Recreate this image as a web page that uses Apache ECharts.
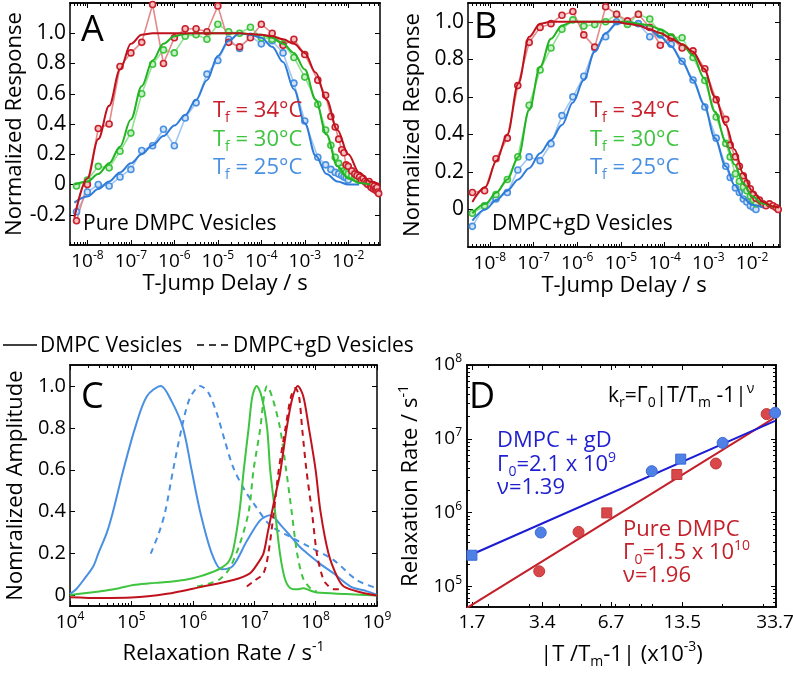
<!DOCTYPE html>
<html>
<head>
<meta charset="utf-8">
<script src="https://cdn.jsdelivr.net/npm/echarts@6.0.0/dist/echarts.min.js"></script>
<style>
html,body{margin:0;padding:0;background:#fff;}
#chart{width:793px;height:676px;}
</style>
</head>
<body>
<div id="chart"></div>
<script>
// ================= DATA =================
// Panel A (Pure DMPC vesicles). x = log10(T-jump delay / s)
const logDelayA = [-8.25,-8,-7.75,-7.5,-7.25,-7,-6.75,-6.5,-6.25,-6,-5.75,-5.5,-5.25,-5,-4.75,-4.5,-4.25,-4,-3.75,-3.5,-3.25,-3,
  -2.7,-2.52,-2.4,-2.3,-2.22,-2.15,-2.1,-2.05,-2,
  -1.92,-1.85,-1.8,-1.74,-1.7,-1.66,-1.62,-1.58,-1.55,-1.52,-1.49,-1.47,-1.44,-1.42,-1.4,-1.38,-1.36,-1.34,-1.32,-1.3];
const respA34 = [-0.24,0.00,0.37,0.40,0.78,0.87,0.94,1.19,0.80,0.97,1.03,1.03,1.01,1.18,0.94,0.91,0.97,1.06,1.00,0.92,0.96,0.86,
  0.69,0.59,0.45,0.38,0.30,0.23,0.21,0.13,0.12,
  0.09,0.07,0.06,0.05,0.03,0.04,0.02,0.01,0.00,0.02,-0.01,-0.02,0.00,-0.03,-0.01,-0.03,-0.04,-0.02,-0.05,-0.06];
const respA30 = [-0.01,0.03,0.12,0.11,0.22,0.34,0.60,0.795,0.89,0.87,0.98,0.99,0.96,1.06,1.01,1.00,1.04,0.97,0.96,0.93,0.84,0.71,
  0.53,0.36,0.26,0.18,0.14,0.11,0.09,0.08,0.07,
  0.06,0.05,0.04,0.03];
const respA25 = [-0.18,-0.05,0.00,-0.01,0.05,0.10,0.225,0.256,0.365,0.256,0.44,0.54,0.73,0.82,0.96,0.90,0.98,0.93,0.95,0.87,0.67,0.42,
  0.18,0.13,0.10,0.08,0.07,0.06,0.05,0.045,0.03];
const fitLogDelayA = [-8.3,-8,-7.75,-7.5,-7.25,-7,-6.75,-6.5,-6.25,-6,-5.75,-5.5,-5.25,-5,-4.75,-4.5,-4.25,-4,-3.75,-3.5,-3.25,-3,-2.75,-2.5,-2.25,-2,-1.75,-1.5,-1.27];
const fitA34 = [-0.22,0.04,0.30,0.52,0.76,0.93,0.99,1.0,1.0,1.0,1.0,1.0,1.0,1.0,1.0,1.0,0.995,0.99,0.98,0.96,0.93,0.87,0.74,0.56,0.36,0.20,0.08,0.02,0.0];
const fitA30 = [0.0,0.02,0.07,0.14,0.25,0.43,0.65,0.82,0.93,0.98,0.995,1.0,1.0,1.0,1.0,1.0,0.995,0.99,0.97,0.93,0.87,0.76,0.56,0.33,0.12,0.04,0.01,0.0];
const fitA25 = [-0.12,-0.08,-0.03,0.02,0.08,0.14,0.20,0.26,0.32,0.39,0.46,0.56,0.69,0.85,0.95,1.0,0.99,0.97,0.91,0.81,0.63,0.405,0.19,0.07,0.02,0.0,0.0];

// Panel B (DMPC+gD vesicles). x = log10(T-jump delay / s)
const logDelayB = [-8.4,-8.12,-7.86,-7.6,-7.36,-7.1,-6.85,-6.6,-6.35,-6.1,-5.85,-5.6,-5.35,-5.1,-4.85,-4.6,-4.34,-4.1,-3.85,-3.6,-3.35,-3.08,
  -2.82,-2.6,-2.5,-2.38,-2.29,-2.2,-2.12,-2.04,-1.97,-1.91,-1.83,-1.75,-1.68,-1.6,-1.52,-1.45,-1.4];
const respB34 = [0.09,0.10,0.27,0.38,0.66,0.89,0.97,0.99,1.035,1.055,0.93,0.865,1.08,1.04,1.005,1.04,0.97,0.875,0.915,0.86,0.845,0.75,
  0.585,0.48,0.343,0.28,0.23,0.18,0.14,0.11,0.08,0.06,0.05,0.03,0.02,0.03,0.02,0.01,0.0];
const respB30 = [-0.02,0.02,0.08,0.16,0.28,0.555,0.743,0.86,0.96,1.01,0.977,0.985,1.0,1.04,0.986,1.04,1.015,0.94,0.92,0.915,0.81,0.687,
  0.493,0.352,0.28,0.19,0.15,0.12,0.10,0.07,0.05,0.03];
const respB25 = [-0.09,0.018,0.056,0.09,0.21,0.28,0.26,0.35,0.50,0.60,0.71,0.86,0.92,1.0,0.99,0.99,0.92,0.93,0.88,0.79,0.69,0.546,
  0.38,0.23,0.17,0.115,0.09,0.056,0.04,0.02,0.01,0.0];
const fitLogDelayB = [-8.4,-8.1,-7.85,-7.6,-7.35,-7.1,-6.85,-6.6,-6.35,-6.1,-5.85,-5.6,-5.35,-5.1,-4.85,-4.6,-4.35,-4.1,-3.85,-3.6,-3.35,-3.1,-2.85,-2.6,-2.4,-2.2,-2.0,-1.75,-1.5,-1.38];
const fitB34 = [0.04,0.12,0.26,0.40,0.67,0.92,0.99,1.0,1.0,1.0,1.0,1.0,1.0,1.0,0.99,0.98,0.96,0.94,0.91,0.88,0.84,0.75,0.60,0.45,0.32,0.19,0.10,0.04,0.015,0.01];
const fitB30 = [-0.02,0.03,0.09,0.16,0.28,0.53,0.76,0.91,0.98,1.0,1.0,1.0,1.0,1.0,1.0,0.99,0.98,0.96,0.93,0.88,0.82,0.70,0.52,0.36,0.24,0.14,0.07,0.03,0.01];
const fitB25 = [-0.06,0.0,0.05,0.10,0.16,0.22,0.30,0.37,0.45,0.57,0.69,0.84,0.94,0.99,1.0,0.99,0.96,0.92,0.87,0.79,0.69,0.56,0.38,0.23,0.13,0.06,0.025,0.01];

// Panel C: relaxation-rate distributions. x = log10(rate / s^-1)
const logRateC34 = [4.0,4.5,5.0,5.58,6.12,6.66,6.93,7.05,7.15,7.22,7.29,7.36,7.42,7.53,7.62,7.71,7.8,7.89,8.0,8.08,8.21,8.35,8.46,8.73,9.0];
const ampC34     = [-0.008,-0.012,-0.01,0.008,0.04,0.074,0.106,0.15,0.2,0.3,0.4,0.5,0.58,0.8,0.94,1.0,0.95,0.8,0.6,0.4,0.2,0.09,0.043,0.016,0.0];
const logRateC30 = [4.0,4.5,4.8,5.03,5.3,5.47,5.7,5.9,6.1,6.3,6.45,6.58,6.66,6.76,6.83,6.91,6.97,7.04,7.12,7.21,7.26,7.34,7.42,7.5,7.59,7.7,7.8,7.9,8.02,8.5,9.0];
const ampC30     = [0.003,0.02,0.035,0.05,0.058,0.062,0.068,0.076,0.09,0.11,0.13,0.16,0.22,0.4,0.6,0.8,0.95,1.0,0.95,0.8,0.6,0.4,0.2,0.08,0.035,0.03,0.035,0.025,0.014,0.007,0.0];
const logRateC25 = [4.0,4.1,4.22,4.38,4.46,4.6,4.7,4.87,5.06,5.25,5.48,5.65,5.84,5.98,6.12,6.31,6.47,6.65,6.88,7.1,7.26,7.45,7.6,7.75,7.91,8.08,8.29,8.57,8.84,9.0];
const ampC25     = [0.008,0.03,0.074,0.14,0.2,0.3,0.4,0.6,0.8,0.95,1.0,0.93,0.8,0.6,0.4,0.2,0.125,0.14,0.26,0.36,0.383,0.33,0.28,0.23,0.19,0.15,0.106,0.043,0.02,0.003];
const logRateCgD34 = [6.88,7.0,7.15,7.23,7.32,7.4,7.51,7.6,7.67,7.73,7.78,7.85,7.94,8.02,8.1,8.16,8.3,8.45];
const ampCgD34     = [0.043,0.07,0.106,0.2,0.4,0.6,0.8,0.95,0.99,0.95,0.8,0.6,0.4,0.2,0.1,0.06,0.03,0.03];
const logRateCgD30 = [6.07,6.3,6.45,6.6,6.77,6.91,6.99,7.1,7.16,7.21,7.3,7.42,7.52,7.61,7.7,7.8,7.94,8.02];
const ampCgD30     = [0.043,0.06,0.08,0.13,0.25,0.4,0.6,0.8,0.95,1.0,0.94,0.8,0.6,0.4,0.2,0.08,0.027,0.02];
const logRateCgD25 = [5.315,5.45,5.55,5.68,5.82,5.95,6.12,6.25,6.39,6.52,6.66,6.85,6.99,7.26,7.59,7.91,8.29,8.67,9.0];
const ampCgD25     = [0.2,0.3,0.4,0.6,0.8,0.94,1.0,0.97,0.87,0.74,0.61,0.5,0.44,0.335,0.28,0.23,0.17,0.074,0.035];

// Panel D: relaxation rate vs |T/Tm - 1| (x10^-3)
const dGdX = [1.7,3.35,10.0,13.3,20.1,33.7];
const dGdRate = [2.64e5,5.36e5,3.64e6,5.3e6,8.8e6,2.25e7];
const dGdShape = ['s','c','c','s','c','c'];
const dPureX = [3.30,4.86,6.42,12.8,18.8,31.0];
const dPureRate = [1.6e5,5.47e5,9.9e5,3.28e6,4.62e6,2.16e7];
const dPureShape = ['c','c','s','s','c','c'];
const dGdFitX = [1.65,33.7];
const dGdFitRate = [2.6e5,1.75e7];
const dPureFitX = [1.62,33.7];
const dPureFitRate = [5.1e4,1.95e7];

// Tick labels
const tickExpAB = [-8,-7,-6,-5,-4,-3,-2];
const respTicksA = [-0.2,0,0.2,0.4,0.6,0.8,1.0];
const respTicksB = [0,0.2,0.4,0.6,0.8,1.0];
const ampTicksC = [0,0.2,0.4,0.6,0.8,1.0];
const rateExpC = [4,5,6,7,8,9];
const dTickVals = [1.7,3.4,6.7,13.5,33.7];
const dTickLabels = ['1.7','3.4','6.7','13.5','33.7'];
const dRateExp = [5,6,7,8];
const minorMult = [2,3,4,5,6,7,8,9];

// ================= STYLE / BUILD =================
const FONT = '"Open Sans", sans-serif';
const COL = {
  red:'#c8202c', redFit:'#c0121c', redRaw:'#e48a8a', redFill:'#f6c0c0',
  green:'#3ec43e', greenFit:'#22b422', greenRaw:'#93e293', greenFill:'#c8f0c8',
  blue:'#4a90e2', blueFit:'#2f7cd8', blueRaw:'#a0c7f1', blueFill:'#cfe2f8',
  dBlueLine:'#1c1cd4', dBlueText:'#1f1fd0', dBlueMk:'#4f80e6',
  dRedLine:'#c4202a', dRedText:'#c4202a', dRedMk:'#d9474a'
};
function rich(F) {
  const s = Math.round(F*0.65);
  return {
    m:{fontSize:F, fontFamily:FONT, verticalAlign:'middle'},
    sup:{fontSize:s, fontFamily:FONT, verticalAlign:'middle', padding:[0,0,Math.round(F*0.62),0]},
    sub:{fontSize:s, fontFamily:FONT, verticalAlign:'middle', padding:[Math.round(F*0.7),0,0,0]}
  };
}
function minorLog(lo, hi, decades) {
  const out = [];
  decades.forEach(n => minorMult.forEach(k => {
    const v = n + Math.log10(k);
    if (v > lo && v < hi) out.push(v);
  }));
  return out;
}

const grids = [
  {left:70, top:3, width:310, height:242},
  {left:468, top:3, width:312, height:244},
  {left:70, top:365, width:307, height:241},
  {left:467, top:365, width:309, height:242}
].map(g => Object.assign({containLabel:false, outerBoundsMode:'none', show:false}, g));

const xAxis = [], yAxis = [];
function mkAxis(list, gi, min, max, pos, ticks, tickLen, extra) {
  const a = {type:'value', gridIndex:gi, min:min, max:max, position:pos, silent:true,
    axisLine:{show:true, onZero:false, lineStyle:{color:'#000', width:1.5}},
    axisTick:{show:!!ticks, inside:true, length:tickLen, lineStyle:{color:'#000', width:1}},
    axisLabel:{show:false}, splitLine:{show:false}, minorTick:{show:false}, axisPointer:{show:false}};
  if (ticks) a.axisTick.customValues = ticks;
  if (extra) Object.assign(a, extra);
  list.push(a);
  return list.length - 1;
}
const nameStyle = (F) => ({fontFamily:FONT, fontSize:F, color:'#000', rich:rich(F)});
const expLabel = (F) => ({show:true, color:'#000', fontFamily:FONT, fontSize:F, rich:rich(F),
  formatter: v => '{m|10}{sup|' + Math.round(v) + '}'});
const decLabel = (F) => ({show:true, color:'#000', fontFamily:FONT, fontSize:F,
  formatter: v => (Math.abs(v) < 1e-9 ? '0' : v.toFixed(1))});

// ---- Panel A axes
const xrA = [-8.4, -1.27], yrA = [-0.4, 1.2];
const minorA = minorLog(xrA[0], xrA[1], [-9,-8,-7,-6,-5,-4,-3,-2]);
const axA = mkAxis(xAxis, 0, xrA[0], xrA[1], 'bottom', tickExpAB, 5, {
  axisLabel:Object.assign(expLabel(19), {customValues:tickExpAB, margin:5}),
  name:'T-Jump Delay / s', nameLocation:'middle', nameGap:24, nameTextStyle:nameStyle(22)});
mkAxis(xAxis, 0, xrA[0], xrA[1], 'top', tickExpAB, 5);
mkAxis(xAxis, 0, xrA[0], xrA[1], 'bottom', minorA, 3);
mkAxis(xAxis, 0, xrA[0], xrA[1], 'top', minorA, 3);
const ayA = mkAxis(yAxis, 0, yrA[0], yrA[1], 'left', respTicksA, 5, {
  axisLabel:Object.assign(decLabel(21), {customValues:respTicksA, margin:4}),
  name:'Normalized Response', nameLocation:'middle', nameGap:43, nameTextStyle:nameStyle(22)});
mkAxis(yAxis, 0, yrA[0], yrA[1], 'right', respTicksA, 5);

// ---- Panel B axes
const xrB = [-8.5, -1.36], yrB = [-0.2, 1.1];
const minorB = minorLog(xrB[0], xrB[1], [-9,-8,-7,-6,-5,-4,-3,-2]);
const axB = mkAxis(xAxis, 1, xrB[0], xrB[1], 'bottom', tickExpAB, 5, {
  axisLabel:Object.assign(expLabel(19), {customValues:tickExpAB, margin:5}),
  name:'T-Jump Delay / s', nameLocation:'middle', nameGap:24, nameTextStyle:nameStyle(22)});
mkAxis(xAxis, 1, xrB[0], xrB[1], 'top', tickExpAB, 5);
mkAxis(xAxis, 1, xrB[0], xrB[1], 'bottom', minorB, 3);
mkAxis(xAxis, 1, xrB[0], xrB[1], 'top', minorB, 3);
const ayB = mkAxis(yAxis, 1, yrB[0], yrB[1], 'left', respTicksB, 5, {
  axisLabel:Object.assign(decLabel(21), {customValues:respTicksB, margin:4}),
  name:'Normalized Response', nameLocation:'middle', nameGap:44, nameTextStyle:nameStyle(22)});
mkAxis(yAxis, 1, yrB[0], yrB[1], 'right', respTicksB, 5);

// ---- Panel C axes
const xrC = [4, 9], yrC = [-0.05, 1.1];
const minorC = minorLog(xrC[0], xrC[1], [4,5,6,7,8]);
const axC = mkAxis(xAxis, 2, xrC[0], xrC[1], 'bottom', rateExpC, 5, {
  axisLabel:Object.assign(expLabel(19), {customValues:rateExpC, margin:5}),
  name:'Relaxation Rate / s{sup|-1}', nameLocation:'middle', nameGap:34, nameTextStyle:nameStyle(22)});
mkAxis(xAxis, 2, xrC[0], xrC[1], 'top', rateExpC, 5);
mkAxis(xAxis, 2, xrC[0], xrC[1], 'bottom', minorC, 3);
mkAxis(xAxis, 2, xrC[0], xrC[1], 'top', minorC, 3);
const ayC = mkAxis(yAxis, 2, yrC[0], yrC[1], 'left', ampTicksC, 5, {
  axisLabel:Object.assign(decLabel(20), {customValues:ampTicksC, margin:4}),
  name:'Nomralized Amplitude', nameLocation:'middle', nameGap:43, nameTextStyle:nameStyle(22)});
mkAxis(yAxis, 2, yrC[0], yrC[1], 'right', ampTicksC, 5);

// ---- Panel D axes (log-log)
const xrD = [Math.log10(1.62), Math.log10(34)], yrD = [4.72, 8];
const dTickLog = dTickVals.map(v => Math.log10(v));
const minorDx = [2,3,4,5,6,7,8,9,10,20,30].map(v => Math.log10(v)).filter(v => v > xrD[0] && v < xrD[1]);
const minorDy = minorLog(yrD[0], yrD[1], [4,5,6,7]);
const axD = mkAxis(xAxis, 3, xrD[0], xrD[1], 'bottom', dTickLog, 5, {
  axisLabel:{show:true, color:'#000', fontFamily:FONT, fontSize:19, customValues:dTickLog, margin:6,
    formatter: v => { let best = 0; dTickLog.forEach((t,i) => { if (Math.abs(t - v) < Math.abs(dTickLog[best] - v)) best = i; }); return dTickLabels[best]; }},
  name:'|T /T{sub|m}-1| (x10{sup|-3})', nameLocation:'middle', nameGap:33, nameTextStyle:nameStyle(22)});
mkAxis(xAxis, 3, xrD[0], xrD[1], 'top', dTickLog, 5);
mkAxis(xAxis, 3, xrD[0], xrD[1], 'bottom', minorDx, 3);
mkAxis(xAxis, 3, xrD[0], xrD[1], 'top', minorDx, 3);
const ayD = mkAxis(yAxis, 3, yrD[0], yrD[1], 'left', dRateExp, 5, {
  axisLabel:Object.assign(expLabel(19), {customValues:dRateExp, margin:5}),
  name:'Relaxation Rate / s{sup|-1}', nameLocation:'middle', nameGap:42, nameTextStyle:nameStyle(22)});
mkAxis(yAxis, 3, yrD[0], yrD[1], 'right', dRateExp, 5);
mkAxis(yAxis, 3, yrD[0], yrD[1], 'left', minorDy, 3);
mkAxis(yAxis, 3, yrD[0], yrD[1], 'right', minorDy, 3);

// ---- Series
const series = [];
const pairs = (xs, ys) => ys.map((y, i) => [xs[i], y]);
function raw(xi, yi, xs, ys, lineCol, edgeCol, fillCol) {
  series.push({type:'line', xAxisIndex:xi, yAxisIndex:yi, data:pairs(xs, ys), silent:true,
    symbol:'circle', symbolSize:6, showSymbol:true, animation:false,
    lineStyle:{color:lineCol, width:1.6}, itemStyle:{color:fillCol, borderColor:edgeCol, borderWidth:1.6},
    emphasis:{disabled:true}, z:3});
}
function fit(xi, yi, xs, ys, col, width, dash, smooth, mono) {
  const s = {type:'line', xAxisIndex:xi, yAxisIndex:yi, data:pairs(xs, ys), silent:true,
    showSymbol:false, symbol:'none', smooth:smooth, animation:false,
    lineStyle:{color:col, width:width, type:dash ? [6,5] : 'solid'}, emphasis:{disabled:true}, z:4};
  if (mono) s.smoothMonotone = 'x';
  series.push(s);
}
// A
raw(axA, ayA, logDelayA, respA25, COL.blueRaw, COL.blue, COL.blueFill);
raw(axA, ayA, logDelayA, respA30, COL.greenRaw, COL.green, COL.greenFill);
raw(axA, ayA, logDelayA, respA34, COL.redRaw, COL.red, COL.redFill);
fit(axA, ayA, fitLogDelayA, fitA25, COL.blueFit, 2, false, 0.35, true);
fit(axA, ayA, fitLogDelayA, fitA30, COL.greenFit, 2, false, 0.35, true);
fit(axA, ayA, fitLogDelayA, fitA34, COL.redFit, 2, false, 0.35, true);
// B
raw(axB, ayB, logDelayB, respB25, COL.blueRaw, COL.blue, COL.blueFill);
raw(axB, ayB, logDelayB, respB30, COL.greenRaw, COL.green, COL.greenFill);
raw(axB, ayB, logDelayB, respB34, COL.redRaw, COL.red, COL.redFill);
fit(axB, ayB, fitLogDelayB, fitB25, COL.blueFit, 2, false, 0.35, true);
fit(axB, ayB, fitLogDelayB, fitB30, COL.greenFit, 2, false, 0.35, true);
fit(axB, ayB, fitLogDelayB, fitB34, COL.redFit, 2, false, 0.35, true);
// C
fit(axC, ayC, logRateC25, ampC25, COL.blue, 2, false, 0.3, false);
fit(axC, ayC, logRateCgD25, ampCgD25, COL.blue, 2, true, 0.3, false);
fit(axC, ayC, logRateC30, ampC30, COL.green, 2, false, 0.3, false);
fit(axC, ayC, logRateCgD30, ampCgD30, COL.green, 2, true, 0.3, false);
fit(axC, ayC, logRateC34, ampC34, COL.redFit, 2, false, 0.3, false);
fit(axC, ayC, logRateCgD34, ampCgD34, COL.redFit, 2, true, 0.3, false);
// D
function dLine(xs, ys, col) {
  series.push({type:'line', xAxisIndex:axD, yAxisIndex:ayD, silent:true, animation:false,
    data:xs.map((x, i) => [Math.log10(x), Math.log10(ys[i])]), showSymbol:false, symbol:'none',
    lineStyle:{color:col, width:2}, z:3});
}
function dPts(xs, ys, shapes, fill, edge) {
  series.push({type:'scatter', xAxisIndex:axD, yAxisIndex:ayD, silent:true, animation:false,
    data:xs.map((x, i) => ({value:[Math.log10(x), Math.log10(ys[i])],
      symbol: shapes[i] === 's' ? 'rect' : 'circle', symbolSize: shapes[i] === 's' ? 10 : 11})),
    itemStyle:{color:fill, borderColor:edge, borderWidth:1, opacity:1}, z:4});
}
dLine(dPureFitX, dPureFitRate, COL.dRedLine);
dLine(dGdFitX, dGdFitRate, COL.dBlueLine);
dPts(dPureX, dPureRate, dPureShape, COL.dRedMk, '#c03838');
dPts(dGdX, dGdRate, dGdShape, COL.dBlueMk, '#3c68d4');

// ---- Text annotations (graphic)
function gRich(F, color) {
  const s = Math.round(F*0.65);
  return {
    m:{fontSize:F, fontFamily:FONT, fill:color, verticalAlign:'middle'},
    sup:{fontSize:s, fontFamily:FONT, fill:color, verticalAlign:'middle', padding:[0,0,Math.round(F*0.62),0]},
    sub:{fontSize:s, fontFamily:FONT, fill:color, verticalAlign:'middle', padding:[Math.round(F*0.7),0,0,0]}
  };
}
function T(x, y, text, F, color, align) {
  return {type:'text', x:x, y:y, silent:true, z:100,
    style:{text:text, fill:color, fontSize:F, fontFamily:FONT, align:align || 'left', verticalAlign:'middle', rich:gRich(F, color)}};
}
const graphics = [
  T(81, 31, 'A', 36, '#000'), T(474, 28, 'B', 36, '#000'), T(81, 398, 'C', 36, '#000'), T(469, 398, 'D', 36, '#000'),
  T(213, 111, '{m|T}{sub|f}{m| = 34°C}', 22, COL.red), T(213, 140, '{m|T}{sub|f}{m| = 30°C}', 22, COL.green), T(213, 168, '{m|T}{sub|f}{m| = 25°C}', 22, COL.blue),
  T(590, 111, '{m|T}{sub|f}{m| = 34°C}', 22, COL.red), T(590, 140, '{m|T}{sub|f}{m| = 30°C}', 22, COL.green), T(590, 168, '{m|T}{sub|f}{m| = 25°C}', 22, COL.blue),
  T(83, 224, 'Pure DMPC Vesicles', 21, '#000'), T(492, 224, 'DMPC+gD Vesicles', 21, '#000'),
  {type:'line', silent:true, shape:{x1:3, y1:345, x2:37, y2:345}, style:{stroke:'#000', lineWidth:1.5}},
  T(40, 346, 'DMPC Vesicles', 21, '#000'),
  {type:'line', silent:true, shape:{x1:197, y1:345, x2:231, y2:345}, style:{stroke:'#000', lineWidth:1.5, lineDash:[7,5]}},
  T(233, 346, 'DMPC+gD Vesicles', 21, '#000'),
  T(608, 396, '{m|k}{sub|r}{m|=Γ}{sub|0}{m||T/T}{sub|m}{m| -1|}{sup|ν}', 21, '#000'),
  T(497, 441, 'DMPC + gD', 22, COL.dBlueText),
  T(497, 465, '{m|Γ}{sub|0}{m|=2.1 x 10}{sup|9}', 22, COL.dBlueText),
  T(497, 488, 'ν=1.39', 22, COL.dBlueText),
  T(623, 530, 'Pure DMPC', 22, COL.dRedText),
  T(623, 553, '{m|Γ}{sub|0}{m|=1.5 x 10}{sup|10}', 22, COL.dRedText),
  T(623, 576, 'ν=1.96', 22, COL.dRedText)
];

const chart = echarts.init(document.getElementById('chart'), null, {renderer:'canvas'});
chart.setOption({
  animation:false,
  backgroundColor:'#fff',
  grid:grids, xAxis:xAxis, yAxis:yAxis, series:series,
  graphic:graphics
});
</script>
</body>
</html>
